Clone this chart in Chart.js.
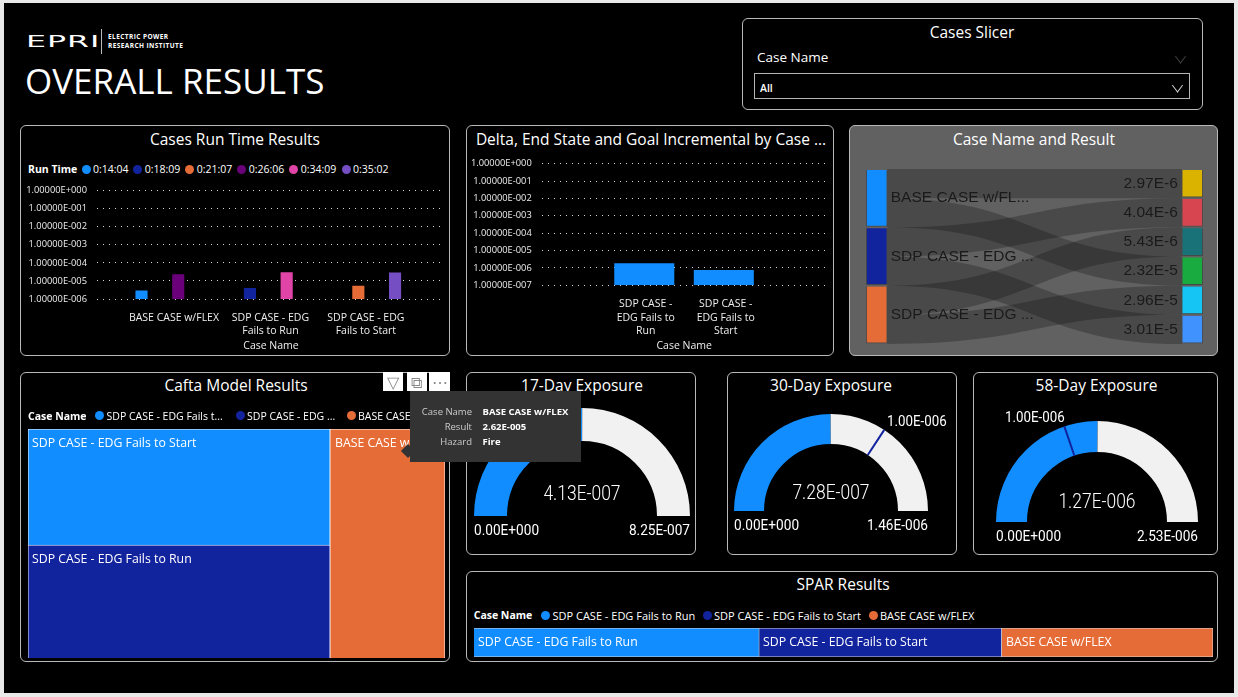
<!DOCTYPE html>
<html>
<head>
<meta charset="utf-8">
<title>Overall Results</title>
<script src="https://cdn.jsdelivr.net/npm/chart.js"></script>
<style>
  html, body { margin: 0; padding: 0; background: #e9e9e9; }
  #report { position: absolute; left: 4px; top: 3px; width: 1230px; height: 690px; background: #000; }
  #page { position: absolute; left: 0; top: 0; width: 1238px; height: 697px; overflow: hidden; font-family: "Open Sans", sans-serif; color: #fff; }
  .panel { position: absolute; box-sizing: border-box; border: 1.5px solid #b9b9b9; border-radius: 6px; background: #000; }
  .txt { position: absolute; white-space: nowrap; line-height: 1; }
  .dot { position: absolute; border-radius: 50%; width: 9px; height: 9px; }
  canvas { position: absolute; }
  .chev { position: absolute; width: 8px; height: 8px; border-right: 1.4px solid #ddd; border-bottom: 1.4px solid #ddd; transform: rotate(45deg) skew(8deg, 8deg); }
</style>
</head>
<body>
<div id="report"></div>
<div id="page"></div>
<script>
// power bi theme colours
const palette = ["#118DFF", "#12239E", "#E66C37", "#6B007B", "#E044A7", "#744EC2", "#D9B300", "#D64550", "#197278", "#1AAB40", "#15C6F4", "#4092FF"];

// Cases Run Time Results
const runCases = [["BASE CASE w/FLEX"], ["SDP CASE - EDG", "Fails to Run"], ["SDP CASE - EDG", "Fails to Start"]];
const runTimes = ["0:14:04", "0:18:09", "0:21:07", "0:26:06", "0:34:09", "0:35:02"];
const runSeries14 = [2.97e-6, null, null];
const runSeries18 = [null, 4.04e-6, null];
const runSeries21 = [null, null, 5.43e-6];
const runSeries26 = [2.32e-5, null, null];
const runSeries34 = [null, 3.01e-5, null];
const runSeries35 = [null, null, 2.96e-5];
const runTicks = [1, 1e-1, 1e-2, 1e-3, 1e-4, 1e-5, 1e-6];

// Delta, End State and Goal Incremental
const deltaCases = [["SDP CASE -", "EDG Fails to", "Run"], ["SDP CASE -", "EDG Fails to", "Start"]];
const deltaValues = [1.86e-6, 7.7e-7];
const deltaTicks = [1, 1e-1, 1e-2, 1e-3, 1e-4, 1e-5, 1e-6, 1e-7];

// Case Name and Result (sankey)
const sankeySources = ["BASE CASE w/FL...", "SDP CASE - EDG ...", "SDP CASE - EDG ..."];
const sankeyResults = ["2.97E-6", "4.04E-6", "5.43E-6", "2.32E-5", "2.96E-5", "3.01E-5"];
const sankeyFlowFrom = [0, 0, 1, 1, 2, 2];
const sankeyFlowTo = [0, 3, 1, 5, 2, 4];

// Cafta Model Results (treemap)
const caftaStart = 3.5e-5;
const caftaRun = 3.41e-5;
const caftaBase = 2.62e-5;

// gauges
const gaugeTitles = ["17-Day Exposure", "30-Day Exposure", "58-Day Exposure"];
const gaugeValues = [4.13e-7, 7.28e-7, 1.27e-6];
const gaugeMaxes = [8.25e-7, 1.46e-6, 2.53e-6];
const gaugeTargets = [0, 1e-6, 1e-6];

// SPAR Results
const sparCases = ["SDP CASE - EDG Fails to Run", "SDP CASE - EDG Fails to Start", "BASE CASE w/FLEX"];
const sparValues = [3.86e-6, 3.28e-6, 2.86e-6];

const page = document.getElementById("page");
Chart.defaults.animation = false;
Chart.defaults.responsive = false;
Chart.defaults.font.family = '"Open Sans", sans-serif';
Chart.defaults.plugins.legend.display = false;
Chart.defaults.plugins.tooltip.enabled = false;

//Plain text helper, y is the middle of the line
function txt(text, x, y, size, opts = {}) {
  const d = document.createElement("div");
  d.className = "txt";
  d.textContent = text;
  d.style.left = x + "px";
  d.style.top = y + "px";
  d.style.fontSize = size + "px";
  d.style.color = opts.color || "#fff";
  if (opts.weight) d.style.fontWeight = opts.weight;
  if (opts.font) d.style.fontFamily = opts.font;
  if (opts.spacing) d.style.letterSpacing = opts.spacing + "px";
  if (opts.z) d.style.zIndex = opts.z;
  const shift = opts.align === "center" ? "-50%" : opts.align === "right" ? "-100%" : "0";
  d.style.transformOrigin = opts.align || "left";
  d.style.transform = `translate(${shift}, -50%) scaleX(${opts.sx || 1})`;
  page.appendChild(d);
  return d;
}

function box(cls, x, y, w, h, style = {}) {
  const d = document.createElement("div");
  d.className = cls;
  d.style.left = x + "px";
  d.style.top = y + "px";
  if (w !== null) d.style.width = w + "px";
  if (h !== null) d.style.height = h + "px";
  Object.assign(d.style, style);
  page.appendChild(d);
  return d;
}

function addCanvas(x, y, w, h) {
  const c = document.createElement("canvas");
  c.width = w;
  c.height = h;
  c.style.left = x + "px";
  c.style.top = y + "px";
  c.style.width = w + "px";
  c.style.height = h + "px";
  page.appendChild(c);
  return c;
}

function legendRow(title, titleX, y, items, size = 10.5) {
  txt(title, titleX, y, 10.5, { weight: 700 });
  items.forEach((it) => {
    box("dot", it.dot - 4.5, y - 4.5, null, null, { background: it.color });
    txt(it.text, it.dot + 7, y, size);
  });
}

//1.00000E-006 style labels
function sciLabel(v, digits) {
  const parts = Number(v).toExponential(digits).toUpperCase().split("E");
  return parts[0] + "E" + parts[1][0] + parts[1].slice(1).padStart(3, "0");
}

// panels
const panels = [
  [20, 125, 430, 231], [466, 125, 368, 231], [849, 125, 369, 231],
  [20, 372, 430, 290], [466, 372, 230, 183], [727, 372, 230, 183],
  [973, 372, 245, 183], [466, 571, 752, 91], [742, 18, 461, 92]
];
panels.forEach((p) => box("panel", p[0], p[1], p[2], p[3]));
document.querySelectorAll(".panel")[2].style.background = "#616161";

// header
txt("EPRI", 26, 42, 16.5, { spacing: 0.5, sx: 1.92, font: '"DejaVu Sans", sans-serif' });
box("line", 101, 29, 1, 25, { position: "absolute", background: "#bbb" });
txt("ELECTRIC POWER", 108, 37, 6.5, { weight: 700, spacing: 0.42 });
txt("RESEARCH INSTITUTE", 108, 46, 6.5, { weight: 700, spacing: 0.42 });
txt("OVERALL RESULTS", 25, 80, 35, { weight: 400 });

// slicer
txt("Cases Slicer", 972, 33, 15.5, { align: "center" });
txt("Case Name", 757, 57.5, 13.5);
box("chev", 1176, 52, null, null, { borderColor: "#444" });
box("slicerBox", 754, 73, 434, 24, { position: "absolute", border: "1px solid #b5b5b5" });
txt("All", 760, 87.5, 10.5, { weight: 600 });
box("chev", 1173, 81, null, null);

// panel titles
txt("Cases Run Time Results", 235, 140, 15.5, { align: "center" });
txt("Delta, End State and Goal Incremental by Case ...", 651, 140, 15.5, { align: "center" });
txt("Case Name and Result", 1034, 140, 15.5, { align: "center" });
txt("Cafta Model Results", 236, 386, 15.5, { align: "center" });
txt("SPAR Results", 843, 585, 15.5, { align: "center" });

legendRow("Run Time", 28, 169, runTimes.map((t, i) => ({
  text: t, color: palette[i], dot: [86, 137.7, 189.7, 241.7, 293.7, 346][i]
})));

//Shared log axis settings for the two bar panels
function logAxis(ticksList, width) {
  return {
    type: "logarithmic",
    min: ticksList[ticksList.length - 1],
    max: ticksList[0],
    afterFit: (s) => { s.width = width; s.paddingTop = 0; s.paddingBottom = 0; },
    afterBuildTicks: (s) => { s.ticks = ticksList.map((v) => ({ value: v })); },
    border: { display: false, dash: [1, 5] },
    grid: { color: "rgba(255,255,255,0.85)", lineWidth: 1, drawTicks: false },
    ticks: { color: "#eee", padding: 10, font: { size: 9.3 }, callback: (v) => sciLabel(v, 5), autoSkip: false }
  };
}

//x axis is linear because the clusters do not fill the width of the plot
function caseAxis(min, max, tickAt, names, height, pad) {
  return {
    type: "linear",
    min: min,
    max: max,
    offset: false,
    afterFit: (s) => { s.height = height; },
    afterBuildTicks: (s) => { s.ticks = tickAt.map((v) => ({ value: v })); },
    border: { display: false },
    grid: { display: false },
    title: { display: true, text: "Case Name", color: "#eee", font: { size: 10.5 }, padding: 0 },
    ticks: { color: "#eee", padding: pad, font: { size: 10.5, lineHeight: 1.3 }, autoSkip: false, maxRotation: 0, minRotation: 0, callback: (v, i) => names[i] }
  };
}

const runSeries = [runSeries14, runSeries18, runSeries21, runSeries26, runSeries34, runSeries35];
new Chart(addCanvas(22, 182, 426, 170), {
  type: "bar",
  data: {
    datasets: runSeries.map((vals, i) => ({
      label: runTimes[i],
      data: vals.map((v, k) => ({ x: k, y: v })),
      backgroundColor: palette[i],
      skipNull: true,
      categoryPercentage: 0.77,
      barPercentage: 0.33
    }))
  },
  options: {
    layout: { padding: { top: 8.7, right: 3 } },
    scales: {
      x: caseAxis(-0.58, 2.63, [0.13, 1.02, 1.9], runCases, 53, 4),
      y: logAxis(runTicks, 75)
    }
  }
});

new Chart(addCanvas(469, 155, 362, 197), {
  type: "bar",
  data: {
    datasets: [{
      label: "Delta",
      data: deltaValues.map((v, k) => ({ x: k, y: v })),
      backgroundColor: palette[0],
      categoryPercentage: 0.755,
      barPercentage: 1
    }]
  },
  options: {
    layout: { padding: { top: 8.7, right: 4.3 } },
    scales: {
      x: caseAxis(-1.29, 2.294, [0.018, 1.024], deltaCases, 66.7, 4),
      y: logAxis(deltaTicks, 72.7)
    }
  }
});

// sankey, the ribbons go behind the node bars
const sankeyPlugin = {
  id: "sankeyRibbons",
  beforeDatasetsDraw(chart) {
    const { ctx, scales: { x, y } } = chart;
    const xa = x.getPixelForValue(0) + 10.5;
    const xb = x.getPixelForValue(1) - 10.5;
    const xm = (xa + xb) / 2;
    ctx.save();
    ctx.fillStyle = "rgba(0,0,0,0.24)";
    sankeyFlowFrom.forEach((from, i) => {
      const slot = from * 2 + (i % 2);
      const y0 = y.getPixelForValue(slot), y1 = y.getPixelForValue(slot + 1);
      const t0 = y.getPixelForValue(sankeyFlowTo[i]), t1 = y.getPixelForValue(sankeyFlowTo[i] + 1);
      ctx.beginPath();
      ctx.moveTo(xa, y0);
      ctx.bezierCurveTo(xm, y0, xm, t0, xb, t0);
      ctx.lineTo(xb, t1);
      ctx.bezierCurveTo(xm, t1, xm, y1, xa, y1);
      ctx.closePath();
      ctx.fill();
    });
    ctx.restore();
  },
  afterDatasetsDraw(chart) {
    const { ctx, scales: { x, y } } = chart;
    ctx.save();
    ctx.fillStyle = "#1a1a1a";
    ctx.font = '15.5px "Liberation Sans", Arial, sans-serif';
    ctx.textBaseline = "middle";
    ctx.textAlign = "left";
    sankeySources.forEach((s, i) => ctx.fillText(s, x.getPixelForValue(0) + 14, y.getPixelForValue(i * 2 + 1)));
    ctx.textAlign = "right";
    sankeyResults.forEach((s, i) => ctx.fillText(s, x.getPixelForValue(1) - 14.5, y.getPixelForValue(i + 0.5)));
    ctx.restore();
  }
};

new Chart(addCanvas(866, 169, 337, 175), {
  type: "bar",
  plugins: [sankeyPlugin],
  data: {
    datasets: [
      {
        data: sankeySources.map((s, i) => ({ x: 0, y: [i * 2 + 0.03, i * 2 + 1.97] })),
        backgroundColor: palette.slice(0, 3),
        borderColor: "rgba(0,0,0,0.25)",
        borderWidth: 1,
        grouped: false,
        barThickness: 21
      },
      {
        data: sankeyResults.map((s, i) => ({ x: 1, y: [i + 0.03, i + 0.97] })),
        backgroundColor: palette.slice(6, 12),
        borderColor: "rgba(0,0,0,0.25)",
        borderWidth: 1,
        grouped: false,
        barThickness: 21
      }
    ]
  },
  options: {
    layout: { padding: 0 },
    scales: {
      x: { type: "linear", display: false, offset: false, min: -0.034, max: 1.034 },
      y: { display: false, reverse: true, min: 0, max: 6 }
    }
  }
});

// treemap, two columns of stacked bars, the width of a column follows its total
const caftaTotal = caftaStart + caftaRun + caftaBase;
const caftaLeftWidth = Math.round(417 * (caftaStart + caftaRun) / caftaTotal);
function treemapColumn(x, w, parts) {
  new Chart(addCanvas(x, 429, w, 229), {
    type: "bar",
    data: {
      labels: ["Result"],
      datasets: parts.map((p) => ({
        data: [p.value],
        backgroundColor: p.color,
        borderColor: "#fff",
        borderWidth: 0.8,
        barPercentage: 1,
        categoryPercentage: 1
      }))
    },
    options: {
      scales: {
        x: { display: false, stacked: true },
        y: { display: false, stacked: true, min: 0, max: parts.reduce((a, p) => a + p.value, 0) }
      }
    }
  });
}
treemapColumn(28, caftaLeftWidth, [{ value: caftaRun, color: palette[1] }, { value: caftaStart, color: palette[0] }]);
treemapColumn(28 + caftaLeftWidth, 417 - caftaLeftWidth, [{ value: caftaBase, color: palette[2] }]);
txt("SDP CASE - EDG Fails to Start", 32, 442.5, 12.3);
txt("SDP CASE - EDG Fails to Run", 32, 558.5, 12.3);
txt("BASE CASE w/FLEX", 335, 442.5, 12.3);

legendRow("Case Name", 28, 415.7, [
  { text: "SDP CASE - EDG Fails t...", color: palette[0], dot: 99.5 },
  { text: "SDP CASE - EDG ...", color: palette[1], dot: 240 },
  { text: "BASE CASE w/FLEX", color: palette[2], dot: 351 }
]);

// gauges
const gaugeGeom = [
  { cx: 582, cy: 516, r: 108, inner: 75, valueY: 493, labelY: 531 },
  { cx: 831, cy: 511, r: 97, inner: 67, valueY: 491.7, labelY: 526, targetX: 887, targetY: 422 },
  { cx: 1096.5, cy: 521.7, r: 101, inner: 70, valueY: 501, labelY: 537, targetX: 1005, targetY: 417.7 }
];
const dinFont = 'Roboto, sans-serif';

const targetPlugin = {
  id: "gaugeTarget",
  afterDatasetsDraw(chart, args, opts) {
    if (!opts.target) return;
    const arc = chart.getDatasetMeta(0).data[0];
    const angle = Math.PI + Math.PI * opts.target / opts.max;
    const { ctx } = chart;
    ctx.save();
    ctx.strokeStyle = palette[1];
    ctx.lineWidth = 2;
    ctx.beginPath();
    ctx.moveTo(arc.x + Math.cos(angle) * arc.innerRadius, arc.y + Math.sin(angle) * arc.innerRadius);
    ctx.lineTo(arc.x + Math.cos(angle) * arc.outerRadius, arc.y + Math.sin(angle) * arc.outerRadius);
    ctx.stroke();
    ctx.restore();
  }
};

gaugeTitles.forEach((title, i) => {
  const g = gaugeGeom[i];
  new Chart(addCanvas(g.cx - g.r, g.cy - g.r, g.r * 2, g.r), {
    type: "doughnut",
    plugins: [targetPlugin],
    data: {
      labels: ["Value", "Remaining"],
      datasets: [{
        data: [gaugeValues[i], gaugeMaxes[i] - gaugeValues[i]],
        backgroundColor: [palette[0], "#F1F1F1"],
        borderWidth: 0
      }]
    },
    options: {
      animation: false,
      rotation: -90,
      circumference: 180,
      // a plain number here gets divided by half the canvas height, so use a percentage
      cutout: (g.inner / g.r * 100) + "%",
      plugins: { gaugeTarget: { target: gaugeTargets[i], max: gaugeMaxes[i] } }
    }
  });
  txt(title, g.cx, 386, 15.5, { align: "center" });
  txt(sciLabel(gaugeValues[i], 2), g.cx, g.valueY, 21, { align: "center", font: dinFont, weight: 300, sx: 0.83 });
  txt("0.00E+000", g.cx - g.r, g.labelY, 14.5, { font: dinFont, sx: 0.94 });
  txt(sciLabel(gaugeMaxes[i], 2), g.cx + g.r, g.labelY, 14.5, { align: "right", font: dinFont, sx: 0.94 });
  if (gaugeTargets[i]) txt(sciLabel(gaugeTargets[i], 2), g.targetX, g.targetY, 14.5, { font: dinFont, sx: 0.92 });
});

// SPAR, one stacked bar
new Chart(addCanvas(473.5, 628, 739, 29), {
  type: "bar",
  data: {
    labels: ["Result"],
    datasets: sparCases.map((name, i) => ({
      label: name,
      data: [sparValues[i]],
      backgroundColor: palette[i],
      borderColor: "rgba(255,255,255,0.85)",
      borderWidth: 0.8,
      barPercentage: 1,
      categoryPercentage: 1
    }))
  },
  options: {
    indexAxis: "y",
    scales: {
      x: { display: false, stacked: true, min: 0, max: sparValues.reduce((a, b) => a + b, 0) },
      y: { display: false, stacked: true }
    }
  }
});
txt(sparCases[0], 478, 642, 12.3);
txt(sparCases[1], 763, 642, 12.3);
txt(sparCases[2], 1006, 642, 12.3);
legendRow("Case Name", 473.7, 615.3, [
  { text: sparCases[0], color: palette[0], dot: 545.5 },
  { text: sparCases[1], color: palette[1], dot: 707 },
  { text: sparCases[2], color: palette[2], dot: 873 }
], 11);

// hover toolbar and tooltip sit on top of everything else
["\u25BD", "\u29C9", "\u22EF"].forEach((icon, i) => {
  box("tool", [383, 406.5, 429][i], 372, [20, 20, 21][i], 19, {
    position: "absolute", background: "#fff", zIndex: 5
  });
  txt(icon, [393, 416.5, 439.5][i], 382, 16, { align: "center", color: "#8a8a8a", z: 6 });
});
box("tipArrow", 403, 446, 10, 10, { position: "absolute", background: "#333", transform: "rotate(45deg)", zIndex: 5 });
box("tip", 409.5, 391, 171.5, 71, { position: "absolute", background: "#333", zIndex: 5 });
[["Case Name", "BASE CASE w/FLEX"], ["Result", "2.62E-005"], ["Hazard", "Fire"]].forEach((row, i) => {
  const y = 412 + i * 14.8;
  txt(row[0], 472, y, 9.5, { align: "right", color: "#ccc", z: 6 });
  txt(row[1], 482.5, y, 9.5, { weight: 700, z: 6 });
});
</script>
</body>
</html>
